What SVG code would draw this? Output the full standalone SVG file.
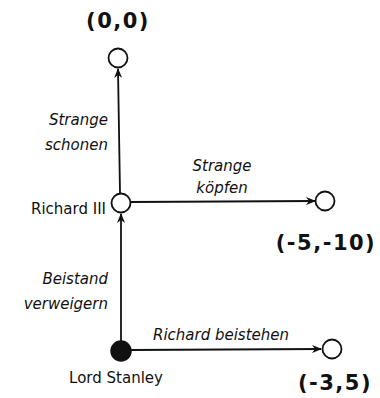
<svg xmlns="http://www.w3.org/2000/svg" width="380" height="398" viewBox="0 0 380 398">
<style>
.n{fill:#fff;stroke:#111;stroke-width:1.8}
.e{stroke:#111;stroke-width:1.8;fill:none}
.t{font-family:"DejaVu Sans",sans-serif;font-size:15px;fill:#111}
.l{font-family:"DejaVu Sans",sans-serif;font-size:15px;font-style:italic;fill:#111}
.p{font-family:"DejaVu Sans",sans-serif;font-size:21px;font-weight:bold;letter-spacing:1.5px;fill:#111}
</style>
<defs>
<marker id="a" markerWidth="10" markerHeight="8" refX="9" refY="4" orient="auto" markerUnits="userSpaceOnUse">
<path d="M0,0 L10,4 L0,8 L3,4 Z" fill="#111"/>
</marker>
</defs>
<rect width="380" height="398" fill="#fff"/>
<g id="connectors">
<line class="e" x1="120" y1="193" x2="118" y2="69" marker-end="url(#a)"/>
<line class="e" x1="131" y1="202" x2="315" y2="201" marker-end="url(#a)"/>
<line class="e" x1="121" y1="341" x2="121" y2="214" marker-end="url(#a)"/>
<line class="e" x1="131" y1="350" x2="321" y2="349" marker-end="url(#a)"/>
<text class="l" x="108" y="125" text-anchor="end">Strange</text>
<text class="l" x="108" y="150" text-anchor="end">schonen</text>
<text class="l" x="222" y="171" text-anchor="middle">Strange</text>
<text class="l" x="222" y="193" text-anchor="middle">köpfen</text>
<text class="l" x="108" y="284" text-anchor="end">Beistand</text>
<text class="l" x="108" y="309" text-anchor="end">verweigern</text>
<text class="l" x="221" y="340" text-anchor="middle">Richard beistehen</text>
</g>
<g id="n00">
<circle class="n" cx="118" cy="58" r="9.5"/>
<text class="p" x="118" y="28" text-anchor="middle">(0,0)</text>
</g>
<g id="richard">
<circle class="n" cx="121" cy="203" r="9.5"/>
<text class="t" x="106" y="214" text-anchor="end">Richard III</text>
</g>
<g id="n510">
<circle class="n" cx="325" cy="201" r="9.5"/>
<text class="p" x="326" y="250" text-anchor="middle">(-5,-10)</text>
</g>
<g id="stanley">
<circle cx="121" cy="351" r="10" fill="#111" stroke="#111" stroke-width="1.5"/>
<text class="t" x="116" y="383" text-anchor="middle">Lord Stanley</text>
</g>
<g id="n35">
<circle class="n" cx="332" cy="349" r="9.5"/>
<text class="p" x="335" y="390" text-anchor="middle">(-3,5)</text>
</g>
</svg>
